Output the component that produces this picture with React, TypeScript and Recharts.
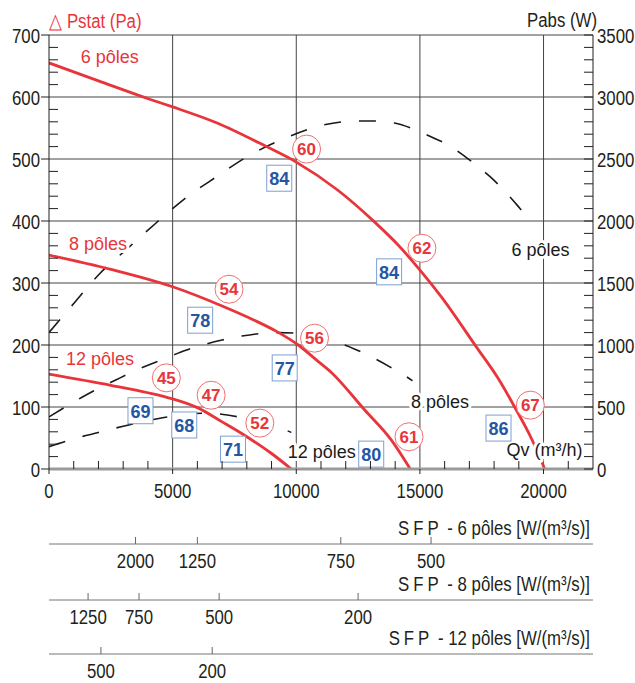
import { ComposedChart, Line, Scatter, XAxis, YAxis, CartesianGrid, Label } from 'recharts';

const RED = '#e8353b';
const BLUE = '#2456a4';
const INK = '#231f20';
const ARIAL = "'Liberation Sans', Arial, sans-serif";

// axes
const qvTicks = [0, 1000, 2000, 3000, 4000, 5000, 6000, 7000, 8000, 9000, 10000, 11000, 12000, 13000, 14000, 15000, 16000, 17000, 18000, 19000, 20000, 21000];
const qvLabels = [0, 5000, 10000, 15000, 20000];
const pstatTicks = [0, 20, 40, 60, 80, 100, 120, 140, 160, 180, 200, 220, 240, 260, 280, 300, 320, 340, 360, 380, 400, 420, 440, 460, 480, 500, 520, 540, 560, 580, 600, 620, 640, 660, 680, 700];
const pstatLabels = [0, 100, 200, 300, 400, 500, 600, 700];
const pabsTicks = [0, 100, 200, 300, 400, 500, 600, 700, 800, 900, 1000, 1100, 1200, 1300, 1400, 1500, 1600, 1700, 1800, 1900, 2000, 2100, 2200, 2300, 2400, 2500, 2600, 2700, 2800, 2900, 3000, 3100, 3200, 3300, 3400, 3500];
const pabsLabels = [0, 500, 1000, 1500, 2000, 2500, 3000, 3500];
const gridP = [100, 200, 300, 400, 500, 600, 700];
const gridQv = [5000, 10000, 15000, 20000];

// SFP scales under the chart (position in m3/h, printed value)
const sfp6Ticks = [3500, 6000, 11800, 15450];
const sfp6Labels = ['2000', '1250', '750', '500'];
const sfp8Ticks = [1580, 3640, 6880, 12500];
const sfp8Labels = ['1250', '750', '500', '200'];
const sfp12Ticks = [2100, 6600];
const sfp12Labels = ['500', '200'];

// static pressure curves (Pa)
const pstat6 = [
  { qv: 0, p: 655 }, { qv: 2000, p: 626 }, { qv: 4100, p: 596 }, { qv: 5000, p: 584 },
  { qv: 6800, p: 558 }, { qv: 8690, p: 522 }, { qv: 10000, p: 495 }, { qv: 11670, p: 450 },
  { qv: 13150, p: 399 }, { qv: 14100, p: 362 }, { qv: 15020, p: 320 }, { qv: 15860, p: 278 },
  { qv: 17280, p: 197 }, { qv: 18150, p: 147 }, { qv: 18830, p: 100 }, { qv: 19500, p: 50 },
  { qv: 20050, p: 0 },
];
const pstat8 = [
  { qv: 0, p: 345 }, { qv: 2500, p: 322 }, { qv: 5000, p: 294 }, { qv: 7000, p: 263 },
  { qv: 8300, p: 240 }, { qv: 9200, p: 222 }, { qv: 10080, p: 200 }, { qv: 10810, p: 176 },
  { qv: 11440, p: 155 }, { qv: 12750, p: 96 }, { qv: 13840, p: 47 }, { qv: 14610, p: 0 },
];
const pstat12 = [
  { qv: 0, p: 153 }, { qv: 2500, p: 135 }, { qv: 4000, p: 123 }, { qv: 5000, p: 113 },
  { qv: 6000, p: 99 }, { qv: 7000, p: 76 }, { qv: 8000, p: 52 }, { qv: 9000, p: 25 },
  { qv: 9800, p: 0 },
];

// absorbed power curves (W)
const pabs6 = [
  { qv: 0, w: 1100 }, { qv: 1000, w: 1335 }, { qv: 2000, w: 1565 }, { qv: 3240, w: 1790 },
  { qv: 4330, w: 1984 }, { qv: 5470, w: 2177 }, { qv: 6760, w: 2355 }, { qv: 8060, w: 2524 },
  { qv: 9470, w: 2661 }, { qv: 10930, w: 2766 }, { qv: 12430, w: 2806 }, { qv: 13160, w: 2806 },
  { qv: 13970, w: 2790 }, { qv: 14740, w: 2742 }, { qv: 15470, w: 2677 }, { qv: 16150, w: 2613 },
  { qv: 16800, w: 2524 }, { qv: 17370, w: 2435 }, { qv: 17980, w: 2331 }, { qv: 18500, w: 2226 },
  { qv: 19030, w: 2105 }, { qv: 19510, w: 1992 },
];
const pabs8 = [
  { qv: 0, w: 420 }, { qv: 1300, w: 575 }, { qv: 2000, w: 650 }, { qv: 2700, w: 718 },
  { qv: 3400, w: 785 }, { qv: 4100, w: 845 }, { qv: 4800, w: 900 }, { qv: 5500, w: 955 },
  { qv: 6300, w: 1005 }, { qv: 7000, w: 1040 }, { qv: 7800, w: 1072 }, { qv: 8500, w: 1092 },
  { qv: 9300, w: 1100 }, { qv: 10000, w: 1095 }, { qv: 11000, w: 1060 }, { qv: 11700, w: 1018 },
  { qv: 12350, w: 968 }, { qv: 13100, w: 898 }, { qv: 13800, w: 822 }, { qv: 14450, w: 745 },
  { qv: 14700, w: 712 },
];
const pabs12 = [
  { qv: 0, w: 180 }, { qv: 700, w: 225 }, { qv: 1400, w: 265 }, { qv: 2100, w: 300 },
  { qv: 3000, w: 345 }, { qv: 3700, w: 378 }, { qv: 4650, w: 415 }, { qv: 5350, w: 435 },
  { qv: 6200, w: 450 }, { qv: 6850, w: 445 }, { qv: 7650, w: 420 }, { qv: 8200, w: 395 },
  { qv: 9100, w: 350 }, { qv: 9800, w: 295 },
];

// efficiency marks
const circleMarks = [
  { qv: 10417, p: 516, label: '60' }, { qv: 15082, p: 356, label: '62' },
  { qv: 7280, p: 290, label: '54' }, { qv: 10738, p: 211, label: '56' },
  { qv: 4746, p: 147, label: '45' }, { qv: 6556, p: 119, label: '47' },
  { qv: 8526, p: 74, label: '52' }, { qv: 14559, p: 52, label: '61' },
  { qv: 19466, p: 103, label: '67' },
];
const boxMarks = [
  { qv: 9311, p: 469, label: '84' }, { qv: 13755, p: 318, label: '84' },
  { qv: 6113, p: 240, label: '78' }, { qv: 9532, p: 163, label: '77' },
  { qv: 3700, p: 94, label: '69' }, { qv: 5470, p: 71, label: '68' },
  { qv: 7440, p: 32, label: '71' }, { qv: 13031, p: 24, label: '80' },
  { qv: 18179, p: 66, label: '86' },
];

// curve names
const redNames = [
  { qv: 1287, p: 665, label: '6 pôles' },
  { qv: 804, p: 363, label: '8 pôles' },
  { qv: 684, p: 177, label: '12 pôles' },
];
const blackNames = [
  { qv: 18702, p: 353, label: '6 pôles' },
  { qv: 14640, p: 108, label: '8 pôles' },
  { qv: 9652, p: 27, label: '12 pôles' },
  { qv: 18501, p: 31, label: 'Qv (m³/h)' },
];

// condensed look: Liberation Sans squeezed horizontally
function Cond(props: { x: number; y: number; anchor?: string; fill?: string; size?: number; children: any }) {
  return (
    <text
      transform={`translate(${props.x},${props.y}) scale(0.8,1)`}
      textAnchor={props.anchor ?? 'start'}
      fontSize={props.size ?? 21}
      fontFamily={ARIAL}
      fill={props.fill ?? INK}
    >
      {props.children}
    </text>
  );
}

function QvTick(props: any) {
  const { x, y, payload } = props;
  const major = qvLabels.includes(payload.value);
  return (
    <g>
      {major ? (
        <line x1={x} y1={y} x2={x} y2={y + 5} stroke={INK} />
      ) : (
        <line x1={x} y1={y} x2={x} y2={y - 8} stroke={INK} />
      )}
      {major && (
        <Cond x={x} y={y + 29} anchor="middle">
          {payload.value}
        </Cond>
      )}
    </g>
  );
}

function PstatTick(props: any) {
  const { x, y, payload } = props;
  const major = pstatLabels.includes(payload.value);
  if (!major) return <line x1={x} y1={y} x2={x + 9} y2={y} stroke={INK} />;
  return (
    <g>
      <line x1={x - 8} y1={y} x2={x} y2={y} stroke={INK} />
      <Cond x={x - 9} y={y + 8} anchor="end">
        {payload.value}
      </Cond>
    </g>
  );
}

function PabsTick(props: any) {
  const { x, y, payload } = props;
  const major = pabsLabels.includes(payload.value);
  return (
    <g>
      <line x1={x - 9} y1={y} x2={x} y2={y} stroke={INK} />
      {major && (
        <Cond x={x + 4} y={y + 8}>
          {payload.value}
        </Cond>
      )}
    </g>
  );
}

function sfpTick(ticks: number[], labels: string[]) {
  return (props: any) => {
    const { x, y, payload } = props;
    const i = ticks.indexOf(payload.value);
    return (
      <g>
        <line x1={x} y1={y - 7} x2={x} y2={y} stroke="#666" />
        <Cond x={x} y={y + 24} anchor="middle">
          {labels[i]}
        </Cond>
      </g>
    );
  };
}

function sfpTitle(poles: string) {
  return (props: any) => {
    const vb = props.viewBox;
    return (
      <Cond x={vb.x + vb.width - 3} y={vb.y - 9} anchor="end">
        <tspan letterSpacing={5}>SFP</tspan> - {poles} pôles [W/(m³/s)]
      </Cond>
    );
  };
}

function CircleMark(props: any) {
  const { cx, cy, payload } = props;
  return (
    <g>
      <circle cx={cx} cy={cy} r={14} fill="#fff" stroke="#f07070" strokeWidth={1} />
      <text x={cx} y={cy + 6} textAnchor="middle" fontSize={17} fontWeight="bold" fontFamily={ARIAL} fill={RED}>
        {payload.label}
      </text>
    </g>
  );
}

function BoxMark(props: any) {
  const { cx, cy, payload } = props;
  return (
    <g>
      <rect x={cx - 12.5} y={cy - 13} width={25} height={26} fill="#fff" stroke="#7d9fd3" strokeWidth={1} />
      <text x={cx} y={cy + 7} textAnchor="middle" fontSize={18} fontWeight="bold" fontFamily={ARIAL} fill={BLUE}>
        {payload.label}
      </text>
    </g>
  );
}

function NameMark(color: string) {
  return (props: any) => {
    const { cx, cy, payload } = props;
    return (
      <text
        x={cx}
        y={cy + 6}
        textAnchor="start"
        fontSize={18}
        fontFamily={ARIAL}
        fill={color}
        stroke="#fff"
        strokeWidth={6}
        paintOrder="stroke"
        strokeLinejoin="round"
      >
        {payload.label}
      </text>
    );
  };
}

const hidden = () => <g />;

function sfpAxis(id: string, ticks: number[], labels: string[], height: number, poles: string) {
  return (
    <XAxis
      xAxisId={id}
      dataKey="qv"
      type="number"
      domain={[0, 22000]}
      allowDataOverflow
      ticks={ticks}
      interval={0}
      height={height}
      tickSize={0}
      tickMargin={0}
      tickLine={false}
      tick={sfpTick(ticks, labels)}
      axisLine={{ stroke: '#777' }}
    >
      <Label content={sfpTitle(poles)} />
    </XAxis>
  );
}

export default function App() {
  return (
    <div style={{ position: 'absolute', left: 0, top: 0, background: '#fff' }}>
      <ComposedChart width={635} height={683} margin={{ top: 35, right: 0, bottom: 0, left: 0 }}>
        <CartesianGrid
          xAxisId="a_q"
          yAxisId="p"
          horizontalValues={gridP}
          verticalValues={gridQv}
          stroke="#444"
          strokeWidth={1}
        />
        <XAxis
          xAxisId="a_q"
          dataKey="qv"
          type="number"
          domain={[0, 22000]}
          allowDataOverflow
          ticks={qvTicks}
          interval={0}
          height={75}
          tickSize={0}
          tickMargin={0}
          tickLine={false}
          tick={QvTick}
          axisLine={{ stroke: '#9a9a9a', strokeWidth: 3 }}
        />
        {sfpAxis('b_sfp6', sfp6Ticks, sfp6Labels, 56, '6')}
        {sfpAxis('c_sfp8', sfp8Ticks, sfp8Labels, 54, '8')}
        {sfpAxis('d_sfp12', sfp12Ticks, sfp12Labels, 29, '12')}
        <YAxis
          yAxisId="p"
          dataKey="p"
          orientation="left"
          type="number"
          domain={[0, 700]}
          allowDataOverflow
          ticks={pstatTicks}
          interval={0}
          width={49}
          tickSize={0}
          tickMargin={0}
          tickLine={false}
          tick={PstatTick}
          axisLine={{ stroke: INK }}
        >
          <Label
            content={(props: any) => (
              <Cond x={props.viewBox.x + 49} y={props.viewBox.y - 7} fill={RED}>
                △ Pstat (Pa)
              </Cond>
            )}
          />
        </YAxis>
        <YAxis
          yAxisId="w"
          dataKey="w"
          orientation="right"
          type="number"
          domain={[0, 3500]}
          allowDataOverflow
          ticks={pabsTicks}
          interval={0}
          width={42}
          tickSize={0}
          tickMargin={0}
          tickLine={false}
          tick={PabsTick}
          axisLine={{ stroke: INK }}
        >
          <Label
            content={(props: any) => (
              <Cond x={props.viewBox.x + 4} y={props.viewBox.y - 8} anchor="end">
                Pabs (W)
              </Cond>
            )}
          />
        </YAxis>

        {/* anchors so the SFP scales get a domain */}
        <Scatter data={sfp6Ticks.map((qv) => ({ qv, p: 0 }))} xAxisId="b_sfp6" yAxisId="p" dataKey="p" shape={hidden} isAnimationActive={false} />
        <Scatter data={sfp8Ticks.map((qv) => ({ qv, p: 0 }))} xAxisId="c_sfp8" yAxisId="p" dataKey="p" shape={hidden} isAnimationActive={false} />
        <Scatter data={sfp12Ticks.map((qv) => ({ qv, p: 0 }))} xAxisId="d_sfp12" yAxisId="p" dataKey="p" shape={hidden} isAnimationActive={false} />

        {[pabs6, pabs8, pabs12].map((d, i) => (
          <Line
            key={'w' + i}
            data={d}
            xAxisId="a_q"
            yAxisId="w"
            dataKey="w"
            type="monotone"
            stroke="#1a1a1a"
            strokeWidth={1.6}
            strokeDasharray="17 18"
            dot={false}
            activeDot={false}
            isAnimationActive={false}
          />
        ))}
        {[pstat6, pstat8, pstat12].map((d, i) => (
          <Line
            key={'p' + i}
            data={d}
            xAxisId="a_q"
            yAxisId="p"
            dataKey="p"
            type="monotone"
            stroke={RED}
            strokeWidth={2.8}
            dot={false}
            activeDot={false}
            isAnimationActive={false}
          />
        ))}

        <Scatter data={blackNames} xAxisId="a_q" yAxisId="p" dataKey="p" shape={NameMark('#1a1a1a')} isAnimationActive={false} />
        <Scatter data={redNames} xAxisId="a_q" yAxisId="p" dataKey="p" shape={NameMark(RED)} isAnimationActive={false} />
        <Scatter data={circleMarks} xAxisId="a_q" yAxisId="p" dataKey="p" shape={CircleMark} isAnimationActive={false} />
        <Scatter data={boxMarks} xAxisId="a_q" yAxisId="p" dataKey="p" shape={BoxMark} isAnimationActive={false} />
      </ComposedChart>
    </div>
  );
}
